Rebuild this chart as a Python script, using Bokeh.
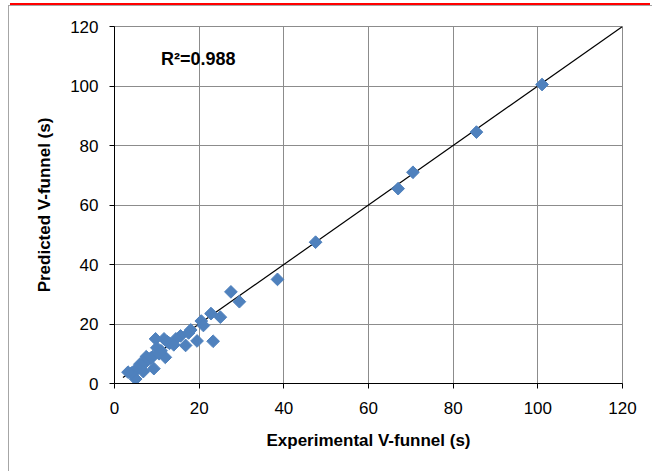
import numpy as np
from bokeh.plotting import figure
from bokeh.models import Label, FixedTicker, Range1d
from bokeh.embed import file_html
from bokeh.resources import INLINE

# Data
experimental = [101, 85.5, 70.5, 67, 47.5, 38.5, 29.5, 27.5, 25, 22.8, 23.3, 20.5, 19.5, 21, 18,
                16.8, 15.6, 14.5, 13, 12, 11.7, 11, 10, 9.7, 9.3, 9, 8.5, 8, 7.5, 7, 6.5, 6,
                5.5, 5, 4.5, 4, 3.2, 12.5, 10.5, 17.5, 14, 6.8]
predicted = [100.5, 84.5, 71, 65.5, 47.5, 35, 27.5, 30.8, 22.3, 23.5, 14.2, 21, 14.3, 19.5, 18,
             12.8, 16, 15, 13.5, 8.8, 15, 11, 12, 15, 5, 9, 8.5, 8, 9, 7, 6, 6.5,
             5, 1.5, 4, 3.5, 3.8, 14, 10, 17, 13, 4]
fit_x = [2, 120]
fit_y = [2, 120]
ticks = [0, 20, 40, 60, 80, 100, 120]
r2_text = "R\u00b2=0.988"
x_title = "Experimental V-funnel (s)"
y_title = "Predicted V-funnel (s)"

FONT = "Liberation Sans"

p = figure(width=644, height=466, output_backend="svg", toolbar_location=None,
           x_range=Range1d(0, 120), y_range=Range1d(0, 120),
           min_border_left=105, min_border_right=31, min_border_top=20, min_border_bottom=89)
p.styles = {"border-left": "1px solid #a6a6a6", "border-top": "1px solid #a6a6a6",
            "margin-left": "8px", "margin-top": "5px",
            "box-shadow": "0px -4px 0px -2px #ff0000"}

p.outline_line_color = "#8c8c8c"
p.outline_line_width = 1

for ax in (p.xaxis[0], p.yaxis[0]):
    ax.ticker = FixedTicker(ticks=ticks)
    ax.minor_tick_line_color = None
    ax.major_tick_in = 0
    ax.major_tick_out = 5
    ax.axis_line_color = "black"
    ax.axis_line_width = 1
    ax.major_tick_line_color = "black"
    ax.major_label_text_font = FONT
    ax.major_label_text_font_size = "17px"
    ax.major_label_text_color = "black"
    ax.axis_label_text_font = FONT
    ax.axis_label_text_font_size = "17px"
    ax.axis_label_text_font_style = "bold"
    ax.axis_label_text_color = "black"

p.xaxis.axis_label = x_title
p.yaxis.axis_label = y_title
p.xaxis.major_label_standoff = 13
p.yaxis.major_label_standoff = 11
p.xaxis.axis_label_standoff = 14
p.yaxis.axis_label_standoff = 13

p.xgrid.ticker = FixedTicker(ticks=ticks)
p.ygrid.ticker = FixedTicker(ticks=ticks)
p.grid.grid_line_color = "#8c8c8c"
p.grid.grid_line_width = 1

p.line(fit_x, fit_y, line_color="black", line_width=1.2)
p.scatter(experimental, predicted, marker="square", angle=np.pi / 4, size=9,
          fill_color="#4F81BD", line_color="#4F81BD")

p.add_layout(Label(x=11, y=109, text=r2_text, text_font=FONT, text_font_size="18px",
                   text_font_style="bold", text_color="black", text_baseline="middle"))

open("out.html", "w").write(file_html(p, INLINE))
